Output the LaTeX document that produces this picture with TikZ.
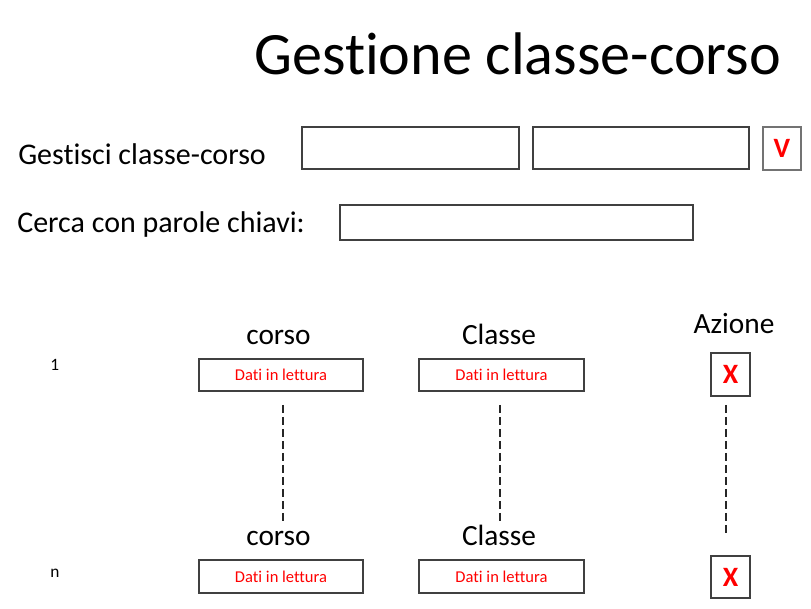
\documentclass[tikz,border=0pt]{standalone}
\usepackage{fontspec}
\setmainfont[Ligatures={NoCommon,NoRare,NoContextual}]{Carlito}
\usetikzlibrary{fit}
\begin{document}
\begin{tikzpicture}[x=0.75pt,y=-0.75pt,
  box/.style={draw=black!75, line width=0.9pt, inner sep=0pt, outer sep=0pt, fill=white},
  lbl/.style={inner sep=0pt, anchor=base west, font=\fontsize{22.5}{26}\selectfont},
  hdr/.style={inner sep=0pt, anchor=base, font=\fontsize{22}{26}\selectfont},
  idx/.style={inner sep=0pt, anchor=base west, font=\fontsize{13}{15}\selectfont},
  dati/.style={inner sep=0pt, text=red, font=\fontsize{12.4}{15}\selectfont},
  redsign/.style={inner sep=0pt, text=red, font=\fontsize{21}{24}\selectfont\bfseries},
  dash line/.style={draw=black!85, line width=0.9pt, dash pattern=on 5.8pt off 3.2pt}]
\useasboundingbox (0,0) rectangle (811,609);
% title
\node[inner sep=0pt, anchor=base west, font=\fontsize{45.1}{50}\selectfont] (title) at (254,75) {Gestione classe-corso};
% first form row
\node[lbl] (gest) at (18,164.3) {Gestisci classe-corso};
\node[box, fit={(302,127) (519,169)}] (b1) {};
\node[box, fit={(533,127) (749,169)}] (b2) {};
\node[box, draw=black!55, fit={(763,127) (801,170)}] (vb) {};
\node[redsign] (vt) at (vb.center) {V};
% search row
\node[lbl] (cerca) at (17,233) {Cerca con parole chiavi:};
\node[box, fit={(340,205) (693,240)}] (sb) {};
% headers row 1
\node[hdr] (h1c) at (278.5,345) {corso};
\node[hdr] (h1k) at (499,345) {Classe};
\node[hdr] (h1a) at (734,333.5) {Azione};
\node[idx] (i1) at (50,371) {1};
\node[box, fit={(199,359) (363,391)}] (c1) {};
\node[dati] at (c1.center) {Dati in lettura};
\node[box, fit={(419,359) (584,391)}] (k1) {};
\node[dati] at (k1.center) {Dati in lettura};
\node[box, fit={(711,353) (750,396)}] (x1) {};
\node[redsign] at (x1.center) {X};
% headers row n
\node[hdr] (hnc) at (278.5,546) {corso};
\node[hdr] (hnk) at (499,546) {Classe};
\node[idx] (in) at (50,577) {n};
\node[box, fit={(199,560) (363,593)}] (cn) {};
\node[dati] at (cn.center) {Dati in lettura};
\node[box, fit={(419,560) (584,593)}] (kn) {};
\node[dati] at (kn.center) {Dati in lettura};
\node[box, fit={(711,556) (750,598)}] (xn) {};
\node[redsign] at (xn.center) {X};
% dashed connectors
\coordinate (d1s) at (283,405);
\coordinate (d1e) at (283,522);
\coordinate (d2s) at (500,405);
\coordinate (d2e) at (500,522);
\coordinate (d3s) at (726,405);
\coordinate (d3e) at (726,533);
\draw[dash line] (d1s) -- (d1e);
\draw[dash line] (d2s) -- (d2e);
\draw[dash line] (d3s) -- (d3e);
\end{tikzpicture}
\end{document}
